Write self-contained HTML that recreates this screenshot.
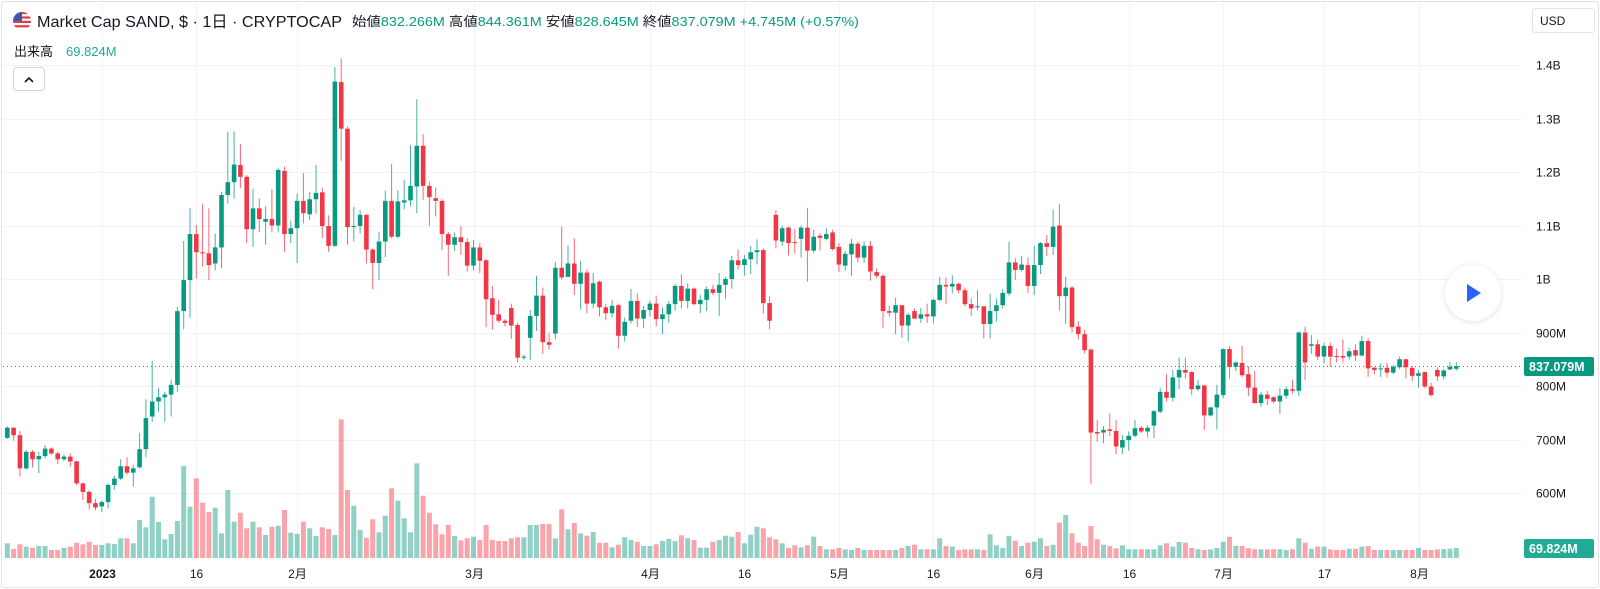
<!DOCTYPE html>
<html><head><meta charset="utf-8">
<style>
html,body{margin:0;padding:0;background:#fff;}
svg{display:block;font-family:"Liberation Sans","Noto Sans CJK JP",sans-serif;}
</style></head>
<body>
<svg id="chart" width="1600" height="589" viewBox="0 0 1600 589">
  <rect x="1.5" y="1.5" width="1597" height="586" rx="3" fill="#fff" stroke="#e0e3eb"/>
  <g id="grid"></g>
  <g id="vol"></g>
  <g id="candles"></g>
  <g id="lastline"></g>
  <g id="yaxis"></g>
  <g id="xaxis"></g>

  <g>
    <defs><clipPath id="flagclip"><circle cx="22" cy="21" r="9"/></clipPath></defs>
    <g clip-path="url(#flagclip)">
      <rect x="13" y="12" width="18" height="18" fill="#fff"/>
      <rect x="13" y="12" width="18" height="2.2" fill="#e63946"/>
      <rect x="13" y="16.4" width="18" height="2.2" fill="#e63946"/>
      <rect x="13" y="20.8" width="18" height="2.2" fill="#e63946"/>
      <rect x="13" y="25.2" width="18" height="2.2" fill="#e63946"/>
      <rect x="13" y="12" width="9" height="9" fill="#3c5aa6"/>
    </g>
    <text x="37" y="27" font-size="16" fill="#131722" textLength="305" lengthAdjust="spacingAndGlyphs">Market Cap SAND, $ · 1日 · CRYPTOCAP</text>
    <text x="352" y="26" font-size="13" fill="#131722" textLength="507" lengthAdjust="spacingAndGlyphs">始値<tspan fill="#089981">832.266M</tspan> 高値<tspan fill="#089981">844.361M</tspan> 安値<tspan fill="#089981">828.645M</tspan> 終値<tspan fill="#089981">837.079M</tspan> <tspan fill="#089981">+4.745M (+0.57%)</tspan></text>
    <text x="14" y="56" font-size="13" fill="#131722">出来高</text>
    <text x="66" y="56" font-size="13" fill="#22ab94">69.824M</text>
  </g>
  <g>
    <rect x="13.5" y="67.5" width="31" height="23" rx="3" fill="#fff" stroke="#d1d4dc"/>
    <path d="M25 82 L29 78 L33 82" fill="none" stroke="#131722" stroke-width="1.6"/>
  </g>
  <g>
    <rect x="1532.5" y="8.5" width="62" height="24" rx="3" fill="#fff" stroke="#e0e3eb"/>
    <text x="1540" y="25" font-size="12" fill="#131722">USD</text>
  </g>
  <g>
    <defs><filter id="sh" x="-50%" y="-50%" width="200%" height="200%"><feDropShadow dx="0" dy="1" stdDeviation="3" flood-color="#000" flood-opacity="0.12"/></filter></defs>
    <circle cx="1473" cy="293" r="28" fill="#fff" filter="url(#sh)"/>
    <path d="M1467 284 L1481 293 L1467 302 Z" fill="#2962ff"/>
  </g>
</svg>
<script>
const opens=[703,722,708,646,677,663,669,683,674,663,668,659,618,602,581,575,583,615,627,650,638,648,682,743,771,779,784,802,940,998,1084,1050,1048,1029,1059,1157,1181,1213,1191,1093,1132,1107,1112,1100,1202,1084,1095,1146,1121,1149,1162,1099,1062,1368,1281,1097,1099,1120,1055,1030,1070,1146,1079,1143,1147,1173,1249,1174,1151,1146,1084,1064,1078,1069,1025,1059,1035,964,934,922,946,914,853,890,931,969,882,898,1021,1004,1029,991,1012,954,995,947,936,951,894,922,959,926,942,954,925,934,953,987,959,982,953,961,981,974,989,1000,1035,1026,1037,1050,1054,955,1120,1070,1096,1069,1075,1096,1053,1081,1075,1087,1060,1025,1046,1066,1040,1062,1013,1006,940,937,951,913,940,926,934,930,961,989,986,991,979,953,947,949,916,940,951,973,1031,1017,1026,987,1026,1067,1060,1100,968,984,911,897,868,714,713,719,716,685,699,707,722,715,726,752,789,778,816,830,826,794,801,745,760,783,869,836,843,822,797,768,784,779,771,782,794,791,900,875,878,855,875,856,856,855,867,857,884,834,832,834,825,835,850,834,819,826,799,830,818,831,832.266];
const highs=[725,723,716,680,680,677,690,685,677,672,674,660,619,605,589,586,618,632,663,667,652,712,775,847,796,789,812,948,1071,1132,1101,1141,1132,1085,1163,1275,1276,1252,1194,1169,1151,1136,1168,1207,1210,1109,1160,1198,1163,1213,1171,1119,1396,1412,1285,1135,1129,1121,1057,1088,1165,1215,1166,1185,1250,1336,1271,1182,1171,1149,1088,1087,1099,1076,1073,1067,1037,987,961,925,954,918,858,942,1006,984,900,1032,1098,1062,1076,1034,1018,1011,997,954,961,954,928,981,973,950,959,969,947,959,991,1009,992,984,970,986,989,1011,1004,1043,1055,1045,1062,1074,1057,968,1129,1100,1098,1093,1100,1133,1092,1085,1095,1092,1067,1052,1075,1070,1070,1071,1020,1009,950,965,951,937,945,946,954,963,1004,1003,1007,993,984,964,979,949,973,964,981,1070,1039,1043,1040,1062,1069,1082,1130,1141,1004,987,921,905,870,736,725,749,736,708,715,736,725,727,755,796,822,830,853,853,828,811,802,761,802,870,875,845,875,837,828,789,791,781,796,799,812,902,911,895,887,881,881,870,887,872,878,894,889,836,842,843,840,855,850,837,830,827,806,835,832,845,844.361];
const lows=[701,698,631,644,648,637,665,671,654,660,649,615,587,569,568,565,571,606,624,634,612,646,667,733,752,733,743,789,906,928,1001,1023,998,1016,1020,1141,1150,1170,1067,1060,1088,1064,1087,1087,1051,1067,1030,1104,1110,1122,1076,1051,1060,1221,1064,1070,1085,1029,981,998,1041,1076,1076,1130,1136,1123,1148,1099,1117,1054,1006,1052,1045,1014,1016,1011,910,905,918,911,888,844,849,849,903,860,868,887,999,1003,970,943,936,945,930,923,928,870,883,917,911,908,930,911,897,918,941,945,945,951,936,940,970,931,963,982,1018,1006,1009,1027,935,906,1057,1062,1044,1048,1040,995,1049,1053,1072,1053,1013,1015,1006,1031,1030,997,1001,908,930,897,890,883,925,918,918,917,959,953,973,973,949,931,941,889,889,920,945,969,998,1014,974,970,1009,1043,1045,941,916,900,887,861,617,696,693,706,673,673,679,704,712,704,703,749,771,771,794,814,783,791,718,743,719,777,814,828,817,781,768,761,764,768,748,776,786,781,811,860,849,842,836,844,844,849,847,855,817,822,817,816,822,832,814,809,797,796,780,810,812,830,828.645];
const closes=[722,708,646,677,663,669,683,674,663,668,659,618,602,581,573,583,615,627,650,638,646,682,740,771,779,784,802,940,998,1084,1050,1048,1026,1059,1157,1181,1214,1191,1093,1132,1112,1112,1100,1204,1084,1095,1146,1123,1149,1161,1099,1062,1369,1281,1097,1099,1120,1055,1030,1070,1146,1079,1145,1147,1174,1249,1174,1153,1146,1084,1064,1078,1069,1025,1059,1034,962,933,922,918,913,853,855,931,969,882,877,1021,1003,1029,991,1012,954,992,947,936,950,894,920,959,926,942,954,925,934,953,987,959,982,953,961,981,974,989,1000,1035,1026,1037,1050,1054,955,922,1072,1095,1067,1067,1096,1053,1079,1077,1084,1056,1027,1047,1066,1040,1062,1014,1006,940,937,951,913,933,926,934,930,961,989,986,991,979,953,945,949,916,940,951,974,1031,1017,1027,987,1026,1067,1060,1098,968,984,910,897,867,713,711,718,716,687,699,707,721,715,722,753,789,778,816,830,825,794,801,745,760,784,869,836,844,820,797,768,784,776,771,782,794,791,900,844,878,855,875,855,855,853,865,857,884,833,830,833,825,836,850,835,819,824,799,783,818,829,836,837.079];
const volumes=[103,63,96,79,72,84,84,56,56,72,79,107,96,114,91,91,103,98,138,138,103,266,215,429,252,131,168,259,644,359,558,387,322,352,173,476,254,317,208,254,215,161,219,226,336,177,168,254,208,154,215,203,161,971,476,366,196,142,271,180,296,488,401,278,180,663,436,317,236,166,231,154,124,138,149,126,231,126,119,119,138,145,145,231,231,238,238,138,341,201,245,173,156,182,107,107,75,93,145,126,114,84,84,96,119,133,119,159,138,126,72,72,114,126,156,149,182,103,163,219,208,145,131,103,70,89,75,89,149,84,61,61,70,61,56,70,56,56,56,56,56,56,70,84,93,61,61,61,138,84,80,56,61,61,61,56,166,89,70,154,121,84,107,114,138,84,93,247,301,173,107,84,224,131,93,84,68,89,61,61,61,61,61,89,103,80,112,107,70,61,56,61,70,114,149,84,84,68,61,61,61,61,61,56,61,138,107,65,80,80,61,56,56,65,65,80,84,56,56,56,56,56,56,56,70,56,56,60,63,65,69.824];
const priceTicks=[600,700,800,900,1000,1100,1200,1300,1400];
const priceTickLabels=["600M","700M","800M","900M","1B","1.1B","1.2B","1.3B","1.4B"];
const timeTickIdx=[15,30,46,74,102,117,132,147,163,178,193,209,224];
const timeTickLabels=["2023","16","2月","3月","4月","16","5月","16","6月","16","7月","17","8月"];
const lastPrice=837.079, lastVolume="69.824M";

const NS="http://www.w3.org/2000/svg";
const plotRight=1522, volBase=558;
const xOf=i=>7.3+i*6.3;
const yOf=v=>65+(1400-v)*0.535;
const hOf=v=>v/7;
function mk(tag,attrs,parent){const e=document.createElementNS(NS,tag);for(const k in attrs)e.setAttribute(k,attrs[k]);parent.appendChild(e);return e;}
const G=document.getElementById('grid'),V=document.getElementById('vol'),C=document.getElementById('candles'),
      L=document.getElementById('lastline'),Y=document.getElementById('yaxis'),X=document.getElementById('xaxis');

priceTicks.forEach((p,k)=>{
  const y=Math.round(yOf(p))+0.5;
  const ln=mk('line',{x1:3,x2:plotRight,y1:y,y2:y,stroke:'#f0f3fa','stroke-width':1},G);
  
  
  const t=mk('text',{x:1536,y:y+4,'font-size':12,fill:'#131722'},Y);
  t.textContent=priceTickLabels[k];
  
  
});
timeTickIdx.forEach((idx,k)=>{
  const x=Math.round(xOf(idx))+0.5;
  const ln=mk('line',{x1:x,x2:x,y1:3,y2:volBase,stroke:'#f0f3fa','stroke-width':1},G);
  
  
  const t=mk('text',{x:x,y:578,'font-size':12,fill:'#131722','text-anchor':'middle','font-weight':k===0?'bold':'normal'},X);
  t.textContent=timeTickLabels[k];
  
  
});
volumes.forEach((v,i)=>{
  const up=closes[i]>=opens[i];
  const h=hOf(v);
  const r=mk('rect',{x:xOf(i)-2.5,y:volBase-h,width:5,height:h,fill:up?'rgba(8,153,129,0.45)':'rgba(242,54,69,0.45)'},V);
  
  
});
opens.forEach((o,i)=>{
  const c=closes[i],up=c>=o,col=up?'#089981':'#f23645',x=xOf(i);
  const hi=Math.max(highs[i],o,c),lo=Math.min(lows[i],o,c);
  const g=mk('g',{},C);
  
  
  mk('line',{x1:x,x2:x,y1:yOf(hi),y2:yOf(lo),stroke:col,'stroke-width':1,'stroke-opacity':0.75},g);
  const top=yOf(Math.max(o,c)),bot=yOf(Math.min(o,c));
  mk('rect',{x:x-2.3,y:top,width:4.6,height:Math.max(1,bot-top),fill:col},g);
});
const ly=Math.round(yOf(lastPrice))+0.5;
mk('line',{x1:3,x2:plotRight,y1:ly,y2:ly,stroke:'#089981','stroke-width':1,'stroke-dasharray':'1 3'},L);
const pb=mk('g',{},Y);


mk('rect',{x:1524,y:ly-9.5,width:70,height:19,rx:2,fill:'#089981'},pb);
const pt=mk('text',{x:1529,y:ly+4.5,'font-size':12.5,'font-weight':'bold',fill:'#fff'},pb);
pt.textContent=lastPrice.toFixed(3)+'M';
const vb=mk('g',{},Y);


mk('rect',{x:1524,y:539,width:70,height:19,rx:2,fill:'#22ab94'},vb);
const vt=mk('text',{x:1529,y:553,'font-size':12.5,'font-weight':'bold',fill:'#fff'},vb);
vt.textContent=lastVolume;
</script>
</body></html>
